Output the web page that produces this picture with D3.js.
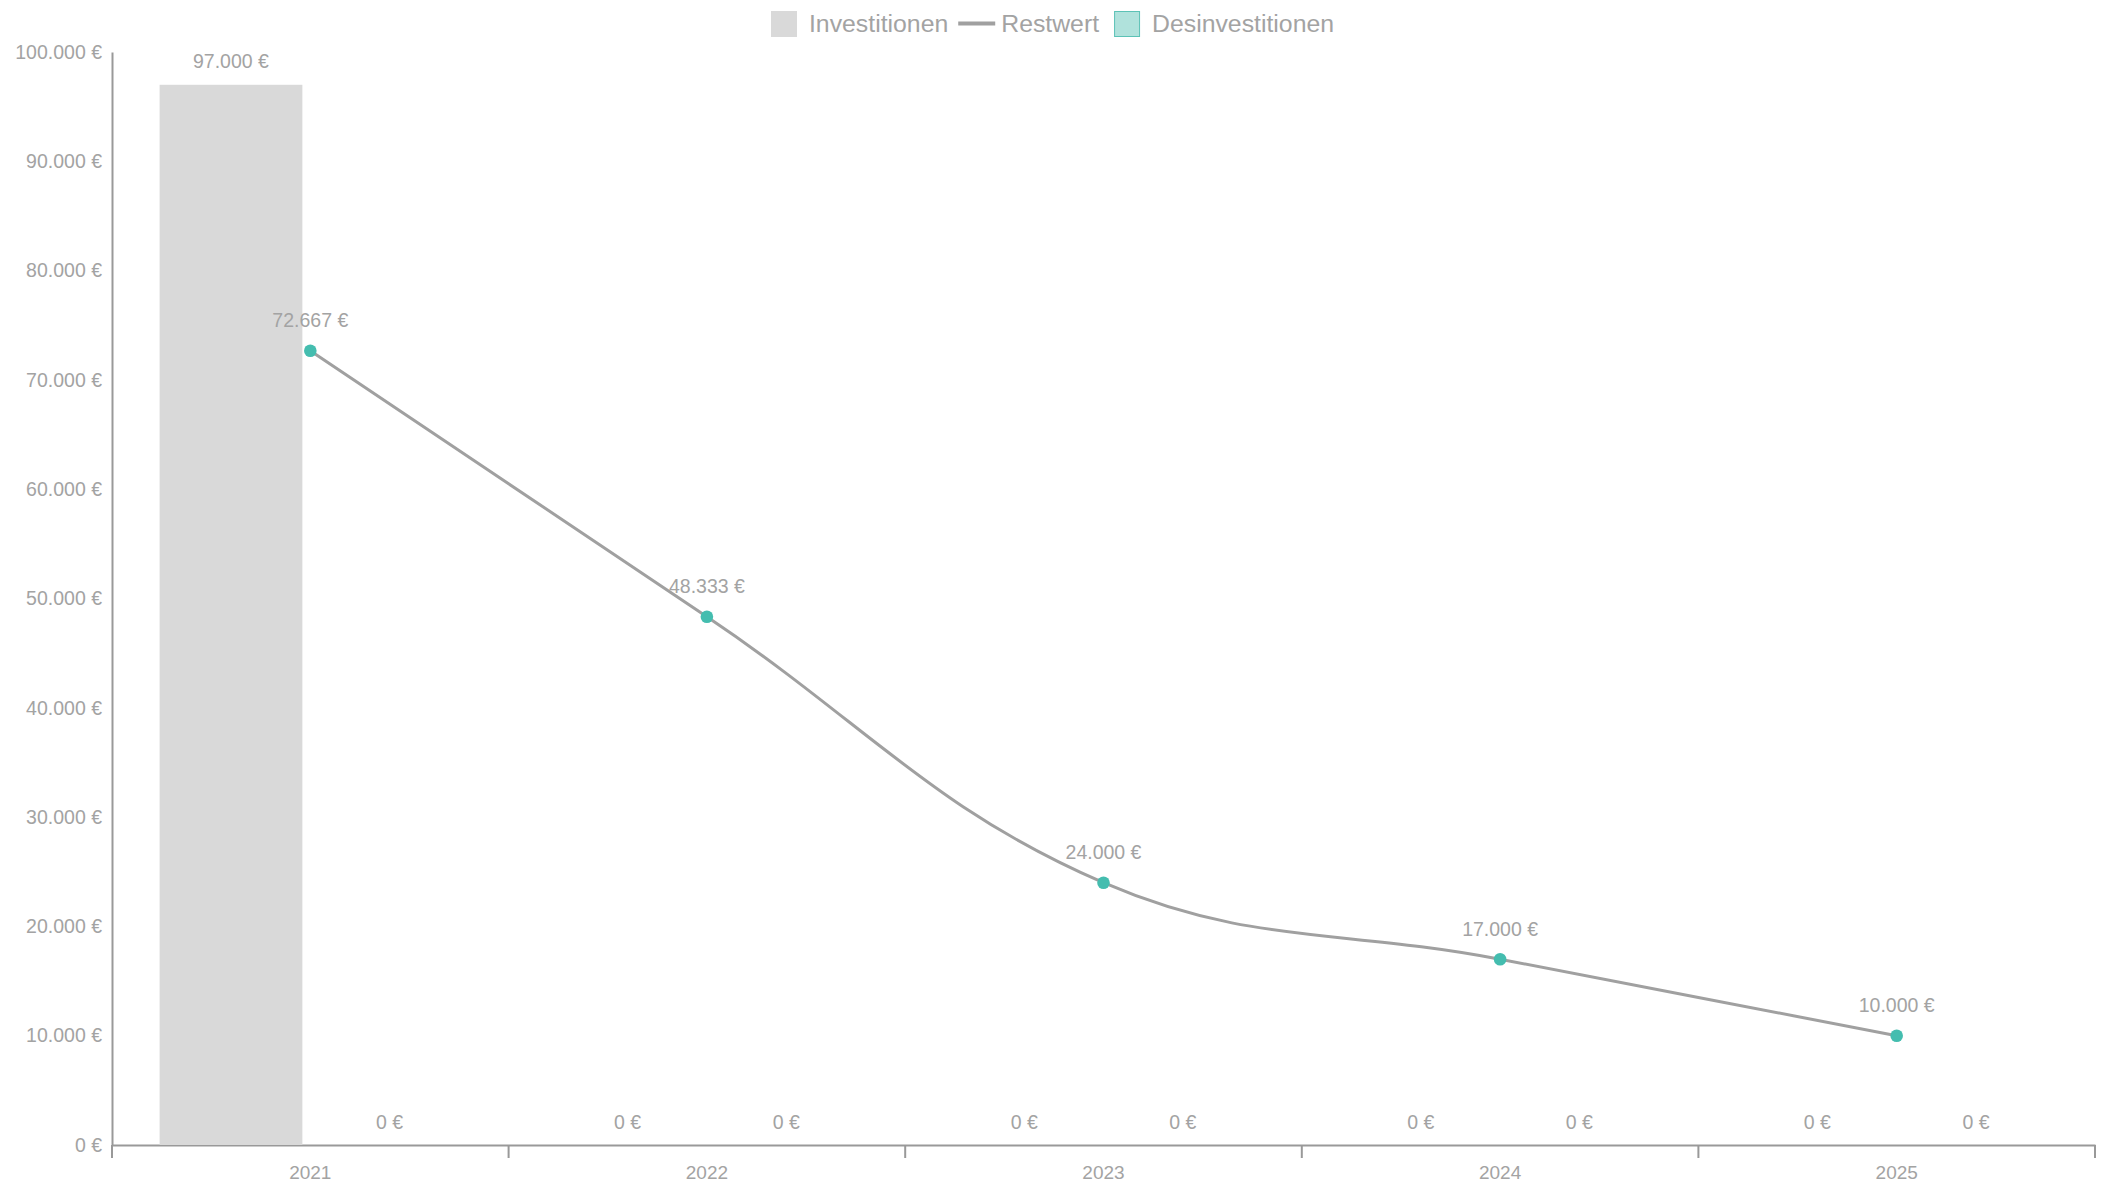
<!DOCTYPE html>
<html>
<head>
<meta charset="utf-8">
<script src="https://cdn.jsdelivr.net/npm/d3@7"></script>
<style>
  body { margin: 0; background: #fff; }
  text { font-family: "Liberation Sans", Arial, sans-serif; }
</style>
</head>
<body>
<div id="chart"></div>
<script>
// values
var years = ["2021", "2022", "2023", "2024", "2025"];
var investitionen = [97000, 0, 0, 0, 0];
var desinvestitionen = [0, 0, 0, 0, 0];
var restwert = [72667, 48333, 24000, 17000, 10000];
var seriesNames = ["Investitionen", "Desinvestitionen"];

var width = 2109,
  height = 1188,
  margin = {top: 52, right: 14, bottom: 43, left: 112};

var de = d3.formatLocale({decimal: ",", thousands: ".", grouping: [3], currency: ["", " €"]});
var euro = de.format("$,.0f");

var svg = d3.select("#chart").append("svg")
  .attr("width", width)
  .attr("height", height);

var x = d3.scaleBand()
  .domain(years)
  .range([margin.left, width - margin.right]);

// two bars per year, like chart.js defaults (80% category, 90% bar)
var xs = d3.scaleBand()
  .domain(seriesNames)
  .range([x.bandwidth() * 0.1, x.bandwidth() * 0.9])
  .paddingInner(0.1)
  .paddingOuter(0.05);

var y = d3.scaleLinear()
  .domain([0, 100000])
  .range([height - margin.bottom, margin.top]);

var grey = "#a3a3a3";

// y axis
var yAxis = svg.append("g")
  .attr("transform", "translate(" + margin.left + ",0)")
  .call(d3.axisLeft(y).ticks(10).tickFormat(euro).tickSize(0).tickPadding(10));
yAxis.select(".domain").attr("stroke", "#999").attr("stroke-width", 2);
yAxis.selectAll("text")
  .attr("fill", grey)
  .style("font-size", "19.5px");

// x axis: labels in band centres, ticks on band edges
var xAxis = svg.append("g")
  .attr("transform", "translate(0," + y(0) + ")")
  .call(d3.axisBottom(x).tickSize(0).tickPadding(21));
xAxis.select(".domain").attr("stroke", "#999").attr("stroke-width", 2);
xAxis.selectAll("text")
  .attr("fill", grey)
  .style("font-size", "19px");

var edges = years.map(function (d) { return x(d); }).concat([x.range()[1]]);
xAxis.selectAll(".edge")
  .data(edges)
  .enter().append("line")
    .attr("class", "edge")
    .attr("x1", function (d) { return d; })
    .attr("x2", function (d) { return d; })
    .attr("y1", 0)
    .attr("y2", 13)
    .attr("stroke", "#999")
    .attr("stroke-width", 2);

// bars
var barData = [];
years.forEach(function (yr, i) {
  barData.push({year: yr, series: "Investitionen", value: investitionen[i]});
  barData.push({year: yr, series: "Desinvestitionen", value: desinvestitionen[i]});
});
var barColor = {Investitionen: "#d9d9d9", Desinvestitionen: "#b0e2dc"};

svg.append("g").selectAll("rect")
  .data(barData)
  .enter().append("rect")
    .attr("x", function (d) { return x(d.year) + xs(d.series); })
    .attr("y", function (d) { return y(d.value); })
    .attr("width", xs.bandwidth())
    .attr("height", function (d) { return y(0) - y(d.value); })
    .attr("fill", function (d) { return barColor[d.series]; });

svg.append("g").selectAll("text")
  .data(barData)
  .enter().append("text")
    .attr("x", function (d) { return x(d.year) + xs(d.series) + xs.bandwidth() / 2; })
    .attr("y", function (d) { return y(d.value) - (d.value > 0 ? 24 : 23); })
    .attr("text-anchor", "middle")
    .attr("dominant-baseline", "central")
    .attr("fill", grey)
    .style("font-size", "19.5px")
    .text(function (d) { return euro(d.value); });

// Restwert line, chart.js style bezier (tension 0.4)
var pts = restwert.map(function (v, i) {
  return {x: x(years[i]) + x.bandwidth() / 2, y: y(v), v: v};
});

function splineCurve(p0, p1, p2, t) {
  var d01 = Math.hypot(p1.x - p0.x, p1.y - p0.y);
  var d12 = Math.hypot(p2.x - p1.x, p2.y - p1.y);
  var s01 = d01 / (d01 + d12) || 0;
  var s12 = d12 / (d01 + d12) || 0;
  var fa = t * s01, fb = t * s12;
  return {
    prev: {x: p1.x - fa * (p2.x - p0.x), y: p1.y - fa * (p2.y - p0.y)},
    next: {x: p1.x + fb * (p2.x - p0.x), y: p1.y + fb * (p2.y - p0.y)}
  };
}
var cps = pts.map(function (p, i) {
  return splineCurve(pts[Math.max(i - 1, 0)], p, pts[Math.min(i + 1, pts.length - 1)], 0.4);
});
var path = d3.path();
path.moveTo(pts[0].x, pts[0].y);
for (var i = 1; i < pts.length; i++) {
  path.bezierCurveTo(cps[i - 1].next.x, cps[i - 1].next.y, cps[i].prev.x, cps[i].prev.y, pts[i].x, pts[i].y);
}
svg.append("path")
  .attr("d", path.toString())
  .attr("fill", "none")
  .attr("stroke", "#a0a0a0")
  .attr("stroke-width", 3);

svg.append("g").selectAll("circle")
  .data(pts)
  .enter().append("circle")
    .attr("cx", function (d) { return d.x; })
    .attr("cy", function (d) { return d.y; })
    .attr("r", 6.3)
    .attr("fill", "#44bdaf");

svg.append("g").selectAll("text")
  .data(pts)
  .enter().append("text")
    .attr("x", function (d) { return d.x; })
    .attr("y", function (d) { return d.y - 30.5; })
    .attr("text-anchor", "middle")
    .attr("dominant-baseline", "central")
    .attr("fill", grey)
    .style("font-size", "19.5px")
    .text(function (d) { return euro(d.v); });

// legend
var legend = svg.append("g");
var lx = 0;
var items = [
  {name: "Investitionen", type: "box", fill: "#d9d9d9", stroke: "#d9d9d9"},
  {name: "Restwert", type: "line"},
  {name: "Desinvestitionen", type: "box", fill: "#b0e2dc", stroke: "#5cc2b6"}
];
items.forEach(function (it, i) {
  var g = legend.append("g").attr("transform", "translate(" + lx + ",0)");
  var sw;
  if (it.type === "box") {
    g.append("rect")
      .attr("x", 0.5).attr("y", 11.5)
      .attr("width", 25).attr("height", 25)
      .attr("fill", it.fill)
      .attr("stroke", it.stroke)
      .attr("stroke-width", 1);
    sw = 38;
  } else {
    g.append("line")
      .attr("x1", 0).attr("x2", 37)
      .attr("y1", 23.5).attr("y2", 23.5)
      .attr("stroke", "#a0a0a0")
      .attr("stroke-width", 4);
    sw = 43;
  }
  var t = g.append("text")
    .attr("x", sw)
    .attr("y", 23.5)
    .attr("dominant-baseline", "central")
    .attr("fill", "#a3a3a3")
    .style("font-size", "24.8px")
    .text(it.name);
  lx += sw + t.node().getComputedTextLength() + (i === 0 ? 10 : 15);
});
var lw = lx - 15;
legend.attr("transform", "translate(" + (width / 2 - lw / 2 - 2) + ",0)");
</script>
</body>
</html>
